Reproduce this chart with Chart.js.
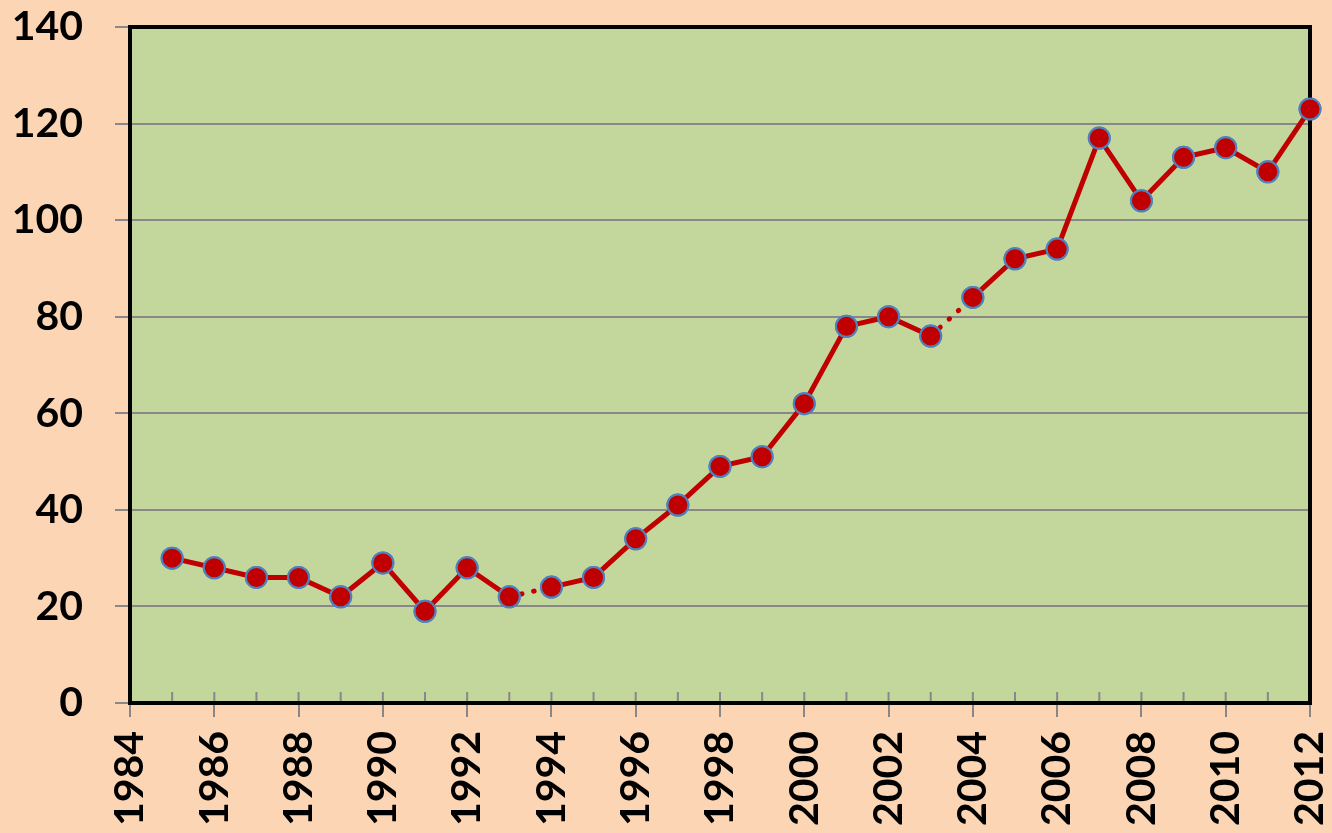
<!DOCTYPE html>
<html>
<head>
<meta charset="utf-8">
<script src="https://cdn.jsdelivr.net/npm/chart.js@4/dist/chart.umd.min.js"></script>
<style>
  html, body { margin: 0; padding: 0; background: #FCD5B5; }
  #wrap { width: 1332px; height: 833px; }
</style>
</head>
<body>
<div id="wrap"><canvas id="mycanvas"></canvas></div>
<script>
var years = [1985, 1986, 1987, 1988, 1989, 1990, 1991, 1992, 1993, 1994,
  1995, 1996, 1997, 1998, 1999, 2000, 2001, 2002, 2003, 2004,
  2005, 2006, 2007, 2008, 2009, 2010, 2011, 2012];
var values = [30, 28, 26, 26, 22, 29, 19, 28, 22, 24,
  26, 34, 41, 49, 51, 62, 78, 80, 76, 84,
  92, 94, 117, 104, 113, 115, 110, 123];
// segments drawn dotted start at these years
var dottedFrom = [1993, 2003];

var points = [];
for (var i in years) {
  points.push({ x: years[i], y: values[i] });
}

var plotArea = {
  id: 'plotArea',
  beforeDraw: function(chart) {
    var a = chart.chartArea, c = chart.ctx;
    c.save();
    c.fillStyle = '#C3D69B';
    c.fillRect(a.left, a.top, a.right - a.left, a.bottom - a.top);
    c.restore();
  },
  afterDatasetsDraw: function(chart) {
    var a = chart.chartArea, c = chart.ctx;
    var xs = chart.scales.x;
    c.save();
    // minor ticks inside
    c.strokeStyle = '#888888';
    c.lineWidth = 2;
    for (var v = xs.min; v <= xs.max; v++) {
      var px = xs.getPixelForValue(v);
      c.beginPath();
      c.moveTo(px, a.bottom - 11);
      c.lineTo(px, a.bottom);
      c.stroke();
    }
    c.restore();
  },
  afterDraw: function(chart) {
    var a = chart.chartArea, c = chart.ctx;
    c.save();
    c.strokeStyle = '#000000';
    c.lineWidth = 4;
    c.strokeRect(a.left, a.top, a.right - a.left, a.bottom - a.top);
    c.restore();
    // redraw markers over the frame
    chart.getDatasetMeta(0).data.forEach(function(p) { p.draw(c); });
  }
};

var ctx = document.getElementById('mycanvas');
new Chart(ctx, {
  type: 'line',
  data: {
    datasets: [{
      data: points,
      borderColor: '#C00000',
      borderWidth: 5,
      borderCapStyle: 'round',
      pointRadius: 10.5,
      pointBackgroundColor: '#C00000',
      pointBorderColor: '#4F81BD',
      pointBorderWidth: 2,
      tension: 0,
      clip: false,
      segment: {
        borderDash: function(s) {
          return dottedFrom.indexOf(s.p0.parsed.x) >= 0 ? [0.5, 12] : undefined;
        }
      }
    }]
  },
  options: {
    responsive: true,
    maintainAspectRatio: false,
    animation: false,
    layout: { padding: { top: 27, right: 22, left: 0, bottom: 0 } },
    plugins: { legend: { display: false }, tooltip: { enabled: false } },
    scales: {
      x: {
        type: 'linear',
        min: 1984,
        max: 2012,
        afterFit: function(s) { s.height = 130; s.paddingLeft = 0; s.paddingRight = 0; },
        border: { display: false },
        grid: { drawOnChartArea: false, drawTicks: true, tickLength: 14, color: '#888888', lineWidth: 2 },
        ticks: {
          stepSize: 2,
          minRotation: 90,
          maxRotation: 90,
          padding: 14,
          color: '#000000',
          font: { family: 'Lato', size: 41, weight: 'bold' },
          callback: function(v) { return String(v); }
        }
      },
      y: {
        min: 0,
        max: 140,
        afterFit: function(s) { s.width = 130; s.paddingTop = 0; s.paddingBottom = 0; },
        border: { display: false },
        grid: { color: '#888888', lineWidth: 2, tickLength: 15 },
        ticks: {
          stepSize: 20,
          padding: 32,
          color: '#000000',
          font: { family: 'Lato', size: 41, weight: 'bold' }
        }
      }
    }
  },
  plugins: [plotArea]
});
</script>
</body>
</html>
